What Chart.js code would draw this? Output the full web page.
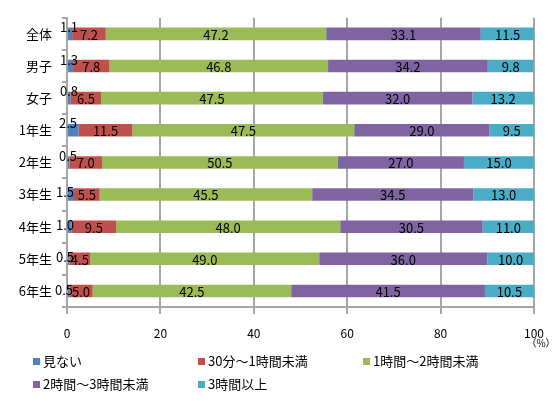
<!DOCTYPE html>
<html lang="ja">
<head>
<meta charset="utf-8">
<title>テレビ視聴時間</title>
<script src="https://cdn.jsdelivr.net/npm/chart.js@4"></script>
<style>
    body { margin: 0; background: #fff; }
    #wrap { position: relative; width: 560px; height: 401px; }
    #legend { position: absolute; left: 33px; top: 352px; width: 520px;
        font-family: "Noto Sans CJK JP", sans-serif; font-size: 13px; color: #000; }
    .item { position: absolute; display: flex; align-items: center; white-space: nowrap; line-height: 18px; }
    .box { width: 7px; height: 7px; margin-right: 3px; }
</style>
</head>
<body>
<div id="wrap">
    <canvas id="chart" width="560" height="401"></canvas>
    <div id="legend"></div>
</div>
<script>
const categories = ['全体', '男子', '女子', '1年生', '2年生', '3年生', '4年生', '5年生', '6年生'];
const seriesNames = ['見ない', '30分～1時間未満', '1時間～2時間未満', '2時間～3時間未満', '3時間以上'];
const noWatch   = [1.1, 1.3, 0.8, 2.5, 0.5, 1.5, 1.0, 0.5, 0.5];
const under1h   = [7.2, 7.8, 6.5, 11.5, 7.0, 5.5, 9.5, 4.5, 5.0];
const h1to2     = [47.2, 46.8, 47.5, 47.5, 50.5, 45.5, 48.0, 49.0, 42.5];
const h2to3     = [33.1, 34.2, 32.0, 29.0, 27.0, 34.5, 30.5, 36.0, 41.5];
const over3h    = [11.5, 9.8, 13.2, 9.5, 15.0, 13.0, 11.0, 10.0, 10.5];
const xTicks    = [0, 20, 40, 60, 80, 100];

const colors = ['#4f81bd', '#c0504d', '#9bbb59', '#8064a2', '#4bacc6'];
const font = '"Noto Sans CJK JP", sans-serif';

// 「見ない」の値ラベルはバーの左上にずらして描く
const smallDx = [1, 1, 1, 0, 0, -3, -3, -3, -4];
const smallDy = [-7, -6, -7, -7, -6, -2, -2, -2, -1];

const valueLabels = {
    id: 'valueLabels',
    afterDatasetsDraw(chart) {
        const ctx = chart.ctx;
        ctx.save();
        ctx.font = '13px ' + font;
        ctx.fillStyle = '#000';
        ctx.textAlign = 'center';
        ctx.textBaseline = 'middle';
        chart.data.datasets.forEach((ds, di) => {
            chart.getDatasetMeta(di).data.forEach((bar, i) => {
                const text = ds.data[i].toFixed(1);
                if (di === 0) {
                    ctx.fillText(text, bar.base + smallDx[i], bar.y + smallDy[i]);
                } else {
                    ctx.fillText(text, (bar.x + bar.base) / 2, bar.y + 1);
                }
            });
        });
        // 単位
        ctx.font = '10px ' + font;
        ctx.fillText('（%）', chart.scales.x.right + 7, 343);
        ctx.restore();
    }
};

const datasets = [noWatch, under1h, h1to2, h2to3, over3h].map((values, i) => ({
    label: seriesNames[i],
    data: values,
    backgroundColor: colors[i],
    borderWidth: 0,
    barPercentage: 0.39,
    categoryPercentage: 1
}));

new Chart(document.getElementById('chart'), {
    type: 'bar',
    data: { labels: categories, datasets: datasets },
    options: {
        responsive: false,
        animation: false,
        indexAxis: 'y',
        layout: { padding: { top: 15, right: 26, bottom: 52, left: 0 } },
        plugins: { legend: { display: false }, tooltip: { enabled: false } },
        scales: {
            x: {
                stacked: true,
                min: 0,
                max: 100,
                afterBuildTicks: scale => { scale.ticks = xTicks.map(v => ({ value: v })); },
                afterFit: scale => { scale.height = 42; },
                grid: { color: '#a6a6a6', lineWidth: 2, tickLength: 7, drawTicks: true },
                border: { color: '#a6a6a6', width: 2 },
                ticks: { font: { family: font, size: 12 }, color: '#000', padding: 12 }
            },
            y: {
                stacked: true,
                afterFit: scale => { scale.width = 67; },
                grid: { drawOnChartArea: false, offset: true, color: '#a6a6a6', lineWidth: 2, tickLength: 5 },
                border: { color: '#a6a6a6', width: 2 },
                ticks: { font: { family: font, size: 13 }, color: '#000', padding: 10 }
            }
        }
    },
    plugins: [valueLabels]
});

const legend = document.getElementById('legend');
seriesNames.forEach((name, i) => {
    const item = document.createElement('div');
    item.className = 'item';
    item.style.left = (i % 3) * 165 + 'px';
    item.style.top = Math.floor(i / 3) * 23 + 'px';
    item.innerHTML = '<span class="box" style="background:' + colors[i] + '"></span>' + name;
    legend.appendChild(item);
});
</script>
</body>
</html>
